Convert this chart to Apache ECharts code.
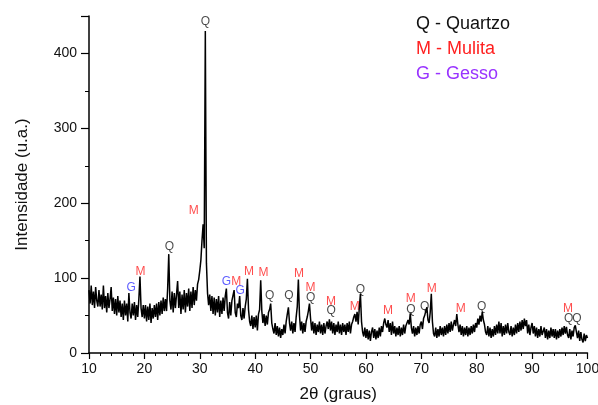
<!DOCTYPE html>
<html>
<head>
<meta charset="utf-8">
<script src="https://cdn.jsdelivr.net/npm/echarts@6/dist/echarts.min.js"></script>
<style>
  html, body { margin: 0; padding: 0; background: #fff; }
  #chart { width: 598px; height: 405px; }
</style>
</head>
<body>
<div id="chart"></div>
<script>
// 2θ começa em 10 e avança 0.2 grau por ponto
const startAngle = 10
const stepAngle = 0.2
const intensity = [
  84, 66, 90, 64, 82, 60, 88, 70, 62, 84,   // 10
  62, 78, 58, 90, 60, 76, 54, 80, 60, 72,   // 12
  88, 56, 74, 52, 72, 50, 76, 54, 70, 48,   // 14
  66, 44, 70, 50, 66, 42, 80, 54, 46, 66,   // 16
  50, 68, 44, 64, 48, 72, 102, 60, 48, 64,  // 18
  46, 64, 42, 62, 44, 66, 40, 60, 46, 64,   // 20
  48, 66, 44, 68, 50, 70, 52, 74, 56, 72,   // 22
  56, 86, 132, 70, 58, 82, 54, 80, 60, 78,  // 24
  96, 60, 82, 52, 78, 58, 84, 54, 80, 62,   // 26
  86, 56, 82, 60, 88, 64, 84, 70, 92, 98,   // 28
  110, 124, 150, 172, 140, 430, 120, 80, 64, 78, // 30
  56, 76, 52, 74, 50, 72, 54, 76, 48, 70,   // 32
  52, 74, 56, 76, 86, 54, 46, 68, 50, 70,   // 34
  72, 84, 54, 48, 66, 60, 76, 50, 44, 60,   // 36
  46, 62, 72, 99, 58, 42, 36, 50, 32, 48,   // 38
  34, 50, 30, 52, 58, 97, 56, 40, 52, 36,   // 40
  50, 38, 54, 58, 66, 40, 32, 26, 40, 24,   // 42
  36, 22, 34, 20, 32, 24, 38, 26, 42, 52,   // 44
  61, 40, 30, 42, 26, 40, 28, 48, 62, 98,   // 46
  50, 30, 42, 26, 40, 28, 42, 48, 56, 66,   // 48
  46, 30, 42, 26, 40, 24, 38, 28, 42, 26,   // 50
  38, 24, 40, 26, 36, 42, 32, 45, 30, 42,   // 52
  26, 40, 24, 38, 28, 42, 26, 38, 24, 40,   // 54
  28, 38, 24, 40, 28, 42, 26, 38, 42, 48,   // 56
  52, 42, 55, 38, 60, 79, 42, 28, 22, 34,   // 58
  20, 32, 18, 30, 16, 28, 34, 20, 32, 18,   // 60
  30, 20, 34, 22, 36, 28, 40, 46, 38, 34,   // 62
  44, 28, 40, 24, 42, 26, 36, 22, 34, 24,   // 64
  36, 22, 34, 24, 38, 26, 36, 38, 44, 38,   // 66
  53, 34, 26, 36, 22, 34, 24, 36, 26, 38,   // 68
  42, 32, 46, 50, 56, 61, 44, 40, 54, 79,   // 70
  42, 26, 22, 34, 20, 32, 22, 36, 24, 34,   // 72
  22, 36, 24, 38, 26, 40, 28, 42, 30, 38,   // 74
  44, 36, 52, 38, 28, 38, 24, 36, 22, 34,   // 76
  24, 36, 22, 34, 24, 36, 26, 38, 28, 40,   // 78
  34, 46, 38, 50, 42, 55, 44, 38, 28, 24,   // 80
  36, 22, 34, 20, 32, 22, 36, 24, 38, 26,   // 82
  42, 26, 40, 22, 36, 24, 38, 26, 40, 28,   // 84
  24, 36, 22, 34, 24, 38, 26, 40, 28, 42,   // 86
  30, 44, 32, 46, 36, 44, 26, 38, 24, 34,   // 88
  40, 26, 36, 22, 34, 20, 32, 22, 36, 24,   // 90
  22, 34, 20, 32, 18, 30, 20, 34, 22, 32,   // 92
  20, 32, 18, 30, 20, 32, 22, 34, 24, 36,   // 94
  26, 35, 24, 20, 32, 18, 30, 22, 34, 37,   // 96
  28, 20, 30, 16, 28, 18, 14, 26, 16, 24,   // 98
  20                                        // 100
]

// rótulos dos picos (posição em 2θ, intensidade, fase)
const peakX = [17.6, 19.3, 24.5, 28.9, 31.0, 34.8, 36.6, 37.3, 38.9, 41.5, 42.6, 46.1, 47.9,
  50.0, 50.0, 53.7, 53.7, 58.0, 59.0, 64.0, 68.1, 68.1, 70.6, 71.9, 77.1, 80.9, 96.5, 96.6, 98.1]
const peakY = [87, 109, 142, 190, 443, 95, 95, 83, 109, 107, 76, 76, 106,
  87, 74, 68, 56, 62, 85, 57, 72, 58, 62, 86, 59, 62, 59, 46, 46]
const peakPhase = ['G', 'M', 'Q', 'M', 'Q', 'G', 'M', 'G', 'M', 'M', 'Q', 'Q', 'M',
  'M', 'Q', 'M', 'Q', 'M', 'Q', 'M', 'M', 'Q', 'Q', 'M', 'M', 'Q', 'M', 'Q', 'Q']

const phaseColor = { Q: '#1a1a1a', M: '#ff1f1f', G: '#3333ff' }
const font = 'Liberation Sans, Arial, sans-serif'

const chart = echarts.init(document.getElementById('chart'))

const lineData = intensity.map((v, i) => [+(startAngle + i * stepAngle).toFixed(1), v])
const labelData = peakX.map((x, i) => ({
  value: [x, peakY[i]],
  name: peakPhase[i],
  label: { color: phaseColor[peakPhase[i]] }
}))

const option = {
  animation: false,
  backgroundColor: '#fff',
  grid: {
    left: 89,
    right: 10.5,
    top: 16,
    bottom: 52,
    outerBoundsMode: 'none'
  },
  xAxis: {
    type: 'value',
    min: 10,
    max: 100,
    interval: 10,
    name: '2θ (graus)',
    nameLocation: 'middle',
    nameGap: 33,
    nameTextStyle: { fontFamily: font, fontSize: 17, color: '#111' },
    axisLine: { lineStyle: { color: '#000', width: 1.5 } },
    axisTick: { length: 6, lineStyle: { color: '#000', width: 1.2 } },
    minorTick: { show: true, splitNumber: 5, length: 3, lineStyle: { color: '#000', width: 1 } },
    axisLabel: { fontFamily: font, fontSize: 14, color: '#111', margin: 9 },
    splitLine: { show: false }
  },
  yAxis: {
    type: 'value',
    min: 0,
    max: 450,
    interval: 100,
    name: 'Intensidade (u.a.)',
    nameLocation: 'middle',
    nameGap: 58,
    nameTextStyle: { fontFamily: font, fontSize: 17, color: '#111' },
    axisLine: { show: true, lineStyle: { color: '#000', width: 1.5 } },
    axisTick: { show: true, length: 8, lineStyle: { color: '#000', width: 1.2 } },
    minorTick: { show: true, splitNumber: 2, length: 4, lineStyle: { color: '#000', width: 1 } },
    axisLabel: {
      fontFamily: font, fontSize: 14, color: '#111', margin: 12,
      formatter: (v) => (v % 100 === 0 ? v : '')
    },
    splitLine: { show: false }
  },
  series: [
    {
      type: 'line',
      data: lineData,
      showSymbol: false,
      lineStyle: { color: '#000', width: 1.5 },
      silent: true
    },
    {
      type: 'scatter',
      data: labelData,
      symbolSize: 0,
      silent: true,
      label: {
        show: true,
        position: 'inside',
        formatter: (p) => p.name,
        fontFamily: font,
        fontSize: 12
      }
    }
  ],
  graphic: [
    { type: 'text', left: 416, top: 15, style: { text: 'Q - Quartzo', fill: '#111', font: '18px ' + font } },
    { type: 'text', left: 416, top: 40, style: { text: 'M - Mulita', fill: '#ff1f1f', font: '18px ' + font } },
    { type: 'text', left: 416, top: 65, style: { text: 'G - Gesso', fill: '#9933ff', font: '18px ' + font } }
  ]
}

chart.setOption(option)
</script>
</body>
</html>
